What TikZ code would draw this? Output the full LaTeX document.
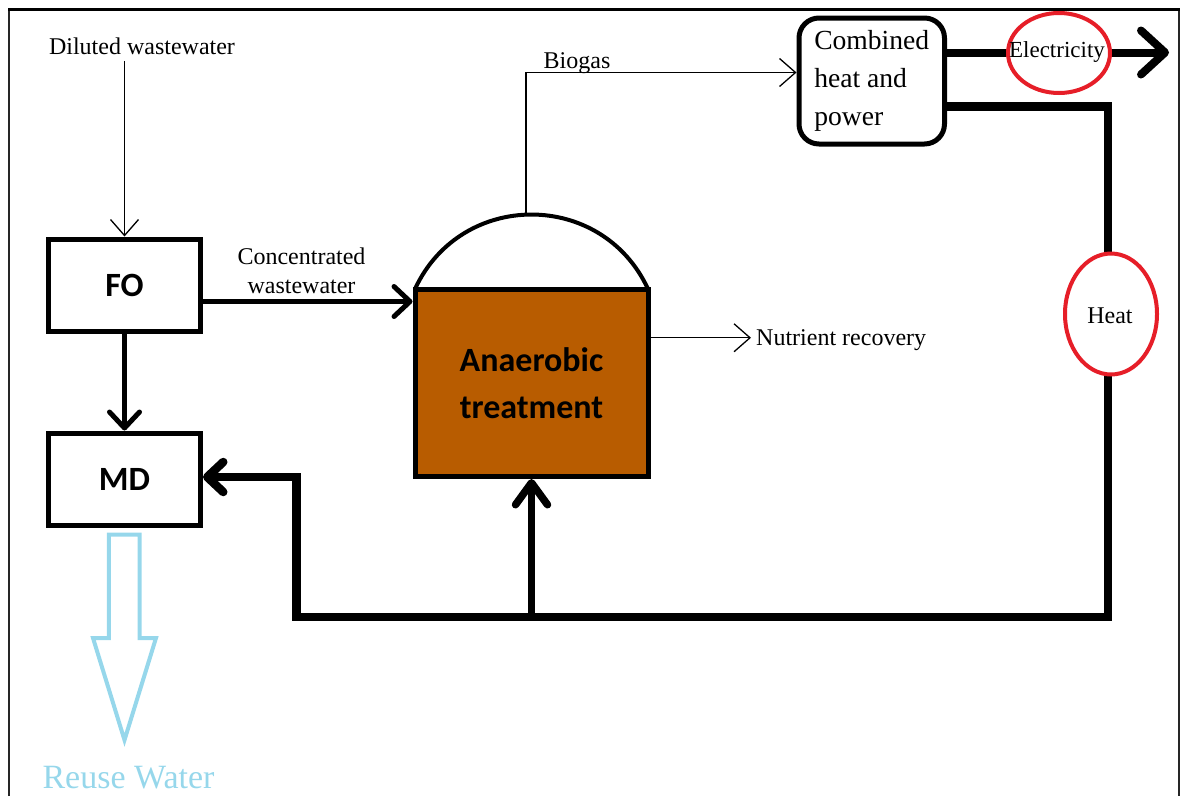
\documentclass[tikz,border=0pt]{standalone}
\usepackage{fontspec}
\setmainfont{Liberation Serif}
\newfontfamily\calib{Carlito}
\usetikzlibrary{arrows.meta,calc,shapes.geometric}
\definecolor{atbrown}{RGB}{184,92,0}
\definecolor{reuseblue}{RGB}{150,215,235}
\definecolor{ovalred}{RGB}{230,30,40}
\tikzset{
  box/.style={draw,line width=5,minimum width=152,minimum height=92,font=\calib\bfseries\fontsize{34}{40}\selectfont},
  lbl/.style={font=\fontsize{24}{28.5}\selectfont,inner sep=0},
  thinarrow/.style={line width=1.3,-{Straight Barb[length=16,width=28]}},
  midarrow/.style={line width=5,-{Straight Barb[length=16,width=30,round]}},
  heatline/.style={line width=8.5,line join=miter},
  oval/.style={ellipse,draw=ovalred,fill=white,line width=4,inner sep=0},
}
\begin{document}
\begin{tikzpicture}[x=1pt,y=-1pt]
\useasboundingbox (0,0) rectangle (1184,796);
% frame
\draw[line width=1.8,black!85] (9,796) -- (9,9);
\draw[line width=1.8,black!85] (1179,9) -- (1179,796);
\draw[line width=3] (8,9) -- (1180,9);

% boxes
\node[box] (FO) at (124.5,285) {FO};
\node[box] (MD) at (124.5,479) {MD};
\node[box,fill=atbrown,minimum width=233,minimum height=187.5,align=center,font=\calib\bfseries\fontsize{34}{47}\selectfont] (AT) at (531.5,382.75) {Anaerobic\\treatment};
\node[draw,line width=5,rounded corners=20,minimum width=145.5,minimum height=126,align=left,font=\fontsize{27.6}{38.3}\selectfont] (CHP) at (871.75,81) {Combined\\heat and\\power};

% dome
\coordinate (domeL) at (415,289);
\coordinate (domeR) at (648,289);
\coordinate (domeTop) at (526,214.5);
\draw[line width=4] (domeL) .. controls (460.9,189.7) and (602.1,189.7) .. (domeR);

% labels
\node[lbl,anchor=base] (dil) at (142,54.5) {Diluted wastewater};
\node[lbl,align=center] (conc) at (301.5,271) {Concentrated\\wastewater};
\node[lbl,anchor=base] (bg) at (577,68.5) {Biogas};
\node[lbl,anchor=base west] (nutr) at (756,345) {Nutrient recovery};

% thin arrows
\draw[thinarrow] ($(dil.south -| FO.north)+(0,6)$) -- (FO.north);
\draw[thinarrow] (domeTop) |- ($(CHP.west)+(0,-8.5)$);
\draw[thinarrow] ($(AT.east)+(0,-45)$) -- ($(nutr.base west)+(-5,-7.25)$);

% medium arrows
\draw[midarrow] ($(FO.east)+(0,16.5)$) -- ($(AT.west)+(0,-81.25)$);
\draw[midarrow] (FO.south) -- (MD.north);

% electricity
\coordinate (elecEnd) at (1169,52.5);
\draw[line width=8,-{Straight Barb[length=24,width=44,round]}] ($(CHP.east)+(0,-28.5)$) -- (elecEnd);
\node[oval,minimum width=102,minimum height=80] (elec) at (1059,53) {};
\node[lbl,font=\fontsize{23}{27}\selectfont,anchor=base] (elecT) at (1057,57.5) {Electricity};

% heat loop
\coordinate (h1) at (1108,106.7);
\coordinate (h2) at (1108,617);
\coordinate (h3) at (296.5,617);
\coordinate (h4) at (296.5,477);
\draw[heatline,-{Straight Barb[length=16,width=30,round]}] ($(CHP.east)+(0,25.7)$) -- (h1) -- (h2) -- (h3) -- (h4) -- (h4 -| MD.east);
\draw[line width=7.5,-{Straight Barb[length=22,width=32,round]}] (AT.south |- h2) -- (AT.south);
\node[oval,minimum width=92,minimum height=121] (heat) at (1111,314) {};
\node[lbl,anchor=base] (heatT) at (1110,323.3) {Heat};

% reuse water
\draw[reuseblue,line width=4,line join=miter] (108.9,534.5) -- (139.5,534.5) -- (139.5,638) -- (156,638) -- (124.5,740) -- (93,638) -- (108.9,638) -- cycle;
\node[lbl,font=\fontsize{34}{40}\selectfont,text=reuseblue,anchor=base] (reuse) at (128.5,788) {Reuse Water};
\end{tikzpicture}
\end{document}
